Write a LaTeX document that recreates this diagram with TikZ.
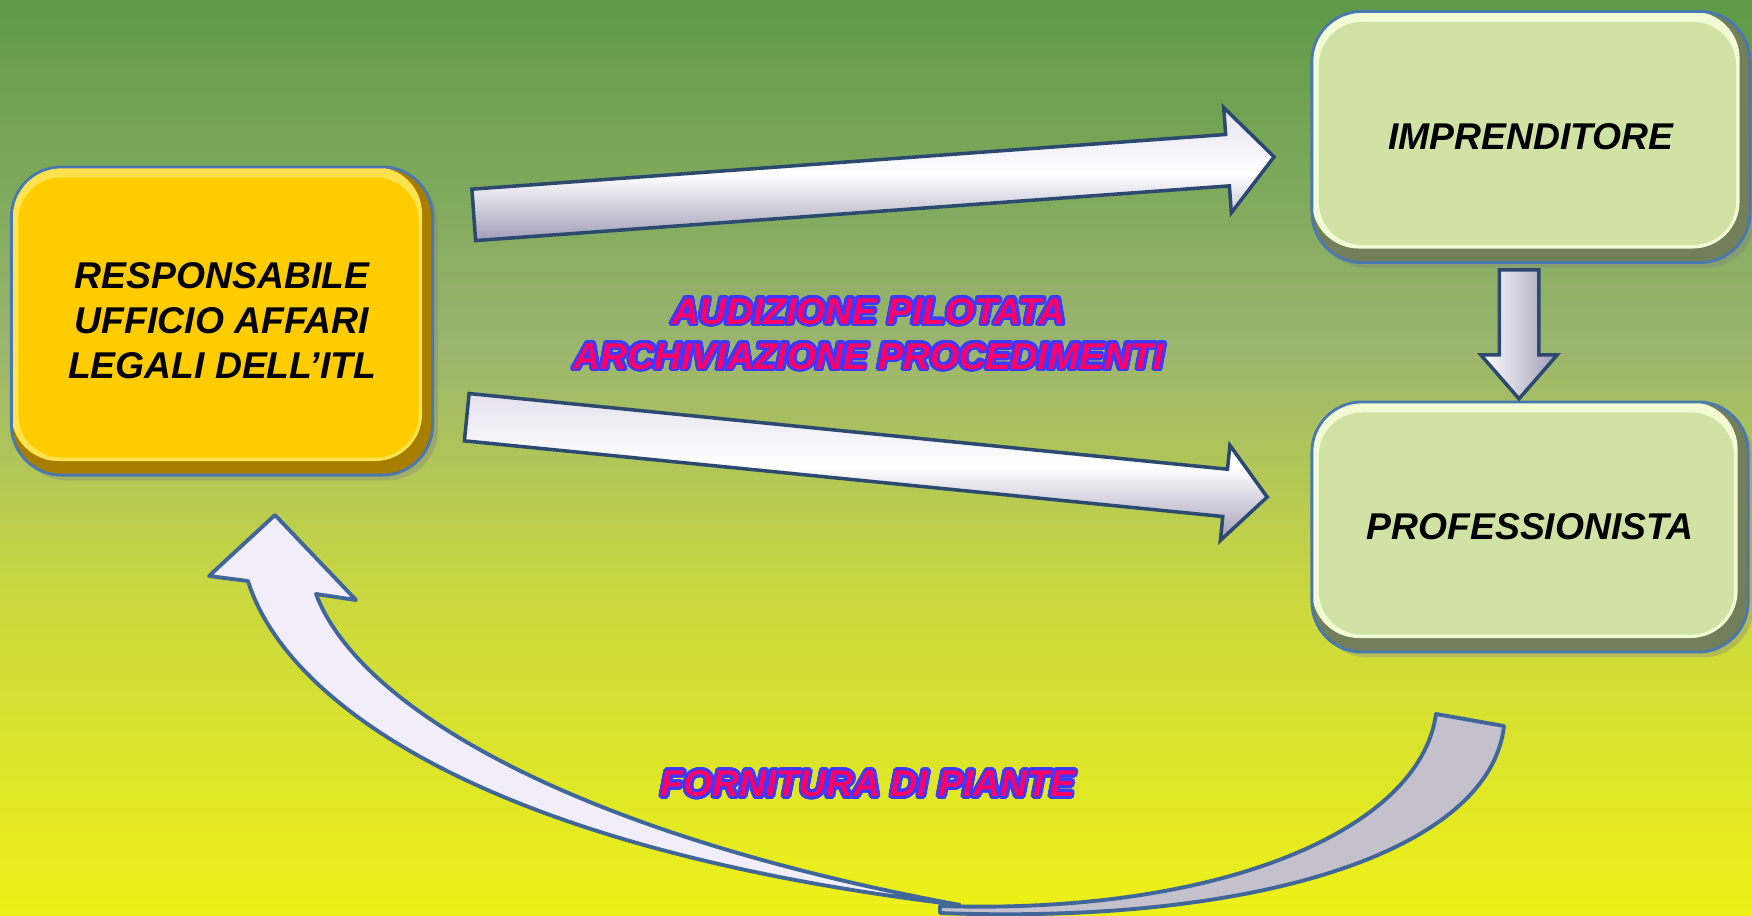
\documentclass[tikz,border=0pt]{standalone}
\usepackage{fontspec}
\setmainfont{Liberation Sans}
\usepackage[copies]{contour}
\usetikzlibrary{shapes.arrows,shadows}

\definecolor{bgtop}{HTML}{5E9A46}
\definecolor{bgmid}{HTML}{9BB66E}
\definecolor{bglow}{HTML}{CAD83F}
\definecolor{bgbot}{HTML}{EEF117}
\definecolor{yfill}{HTML}{FFCC00}
\definecolor{ylight}{HTML}{FFE24D}
\definecolor{ydark}{HTML}{A87E00}
\definecolor{gfill}{HTML}{D0E3A5}
\definecolor{glight}{HTML}{F2FBD4}
\definecolor{gdark}{HTML}{737F5A}
\definecolor{boxline}{HTML}{4A78B0}
\definecolor{arrline}{HTML}{2C4A70}
\definecolor{arrtop}{HTML}{E4E1EE}
\definecolor{arrbot}{HTML}{A29DB8}
\definecolor{curveline}{HTML}{40669A}
\definecolor{curvelight}{HTML}{F2EEF9}
\definecolor{curvegrey}{HTML}{C4C1CC}
\definecolor{labred}{HTML}{FF0066}
\definecolor{labblue}{HTML}{3B3BFF}

\pgfdeclareverticalshading{bgshade}{100bp}{color(0bp)=(bgbot); color(25bp)=(bgbot);
  color(42.5bp)=(bglow); color(56bp)=(bgmid); color(75bp)=(bgtop); color(100bp)=(bgtop)}

\contourlength{0.75pt}
\contournumber{24}

\begin{document}
\begin{tikzpicture}[x=0.01cm,y=-0.01cm]
  \tikzstyle{box}=[rounded corners=0.5cm, draw=boxline, line width=0.8pt, inner sep=0pt,
    align=center, font=\fontsize{10.6}{12.8}\selectfont\bfseries\itshape,
    drop shadow={shadow xshift=1.5pt,shadow yshift=-1.5pt,opacity=0.35}]
  \tikzstyle{ybox}=[box, fill=yfill, path picture={
    \fill[ydark] (path picture bounding box.south west) rectangle (path picture bounding box.north east);
    \fill[ylight, rounded corners=0.47cm] (path picture bounding box.north west) rectangle ([shift={(-3pt,4pt)}]path picture bounding box.south east);
    \fill[yfill, rounded corners=0.43cm] ([shift={(2pt,-3pt)}]path picture bounding box.north west) rectangle ([shift={(-4pt,5pt)}]path picture bounding box.south east);}]
  \tikzstyle{gbox}=[box, fill=gfill, path picture={
    \fill[gdark] (path picture bounding box.south west) rectangle (path picture bounding box.north east);
    \fill[glight, rounded corners=0.47cm] (path picture bounding box.north west) rectangle ([shift={(-3pt,4pt)}]path picture bounding box.south east);
    \fill[gfill, rounded corners=0.43cm] ([shift={(2pt,-3pt)}]path picture bounding box.north west) rectangle ([shift={(-4pt,5pt)}]path picture bounding box.south east);}]
  \tikzstyle{bigarrow}=[single arrow, draw=arrline, line width=1pt, inner xsep=0pt,
    single arrow tip angle=97, single arrow head indent=0pt, anchor=tail,
    top color=arrtop, bottom color=arrbot, middle color=white]
  \tikzstyle{curveline}=[draw=curveline, line width=1.1pt, line join=round]
  \tikzstyle{flowtext}=[inner sep=0pt, align=center, text=labred,
    font=\fontsize{10.6}{12.8}\selectfont\bfseries\itshape]

  % background
  \useasboundingbox (0,0) rectangle (1752,915);
  \fill[shading=bgshade] (0,0) rectangle (1752,915);

  % boxes
  \node[ybox, minimum width=4.21cm, minimum height=3.08cm] (resp) at (222,321)
    {RESPONSABILE\\UFFICIO AFFARI\\LEGALI DELL’ITL};
  \node[gbox, minimum width=4.38cm, minimum height=2.51cm] (impr) at (1531,137) {IMPRENDITORE};
  \node[gbox, minimum width=4.36cm, minimum height=2.50cm] (prof) at (1530,527) {PROFESSIONISTA};

  % straight arrows
  \node[bigarrow, minimum height=8.02cm, inner ysep=0.24cm,
    single arrow head extend=0.27cm, rotate=4.15] (toimpr) at (472,215) {};
  \node[bigarrow, minimum height=8.04cm, inner ysep=0.22cm,
    single arrow head extend=0.24cm, rotate=-5.7] (toprof) at (465,417) {};
  \node[bigarrow, minimum height=1.29cm, inner ysep=0.18cm, single arrow tip angle=82,
    single arrow head extend=0.185cm, rotate=-90, left color=white, middle color=white,
    right color=arrbot] (down) at (1519,268) {};

  % curved arrow back
  \filldraw[curveline, fill=curvegrey] (1436,714) -- (1504,726)
    .. controls (1490,850) and (1260,925) .. (940,913) -- (940,906)
    .. controls (1220,915) and (1420,830) .. (1436,714) -- cycle;
  \filldraw[curveline, fill=curvelight] (248,581)
    .. controls (285,700) and (480,848) .. (960,905)
    .. controls (580,835) and (360,710) .. (316,594)
    -- (356,600) -- (275,515) -- (209,576) -- cycle;

  % labels
  \node[flowtext] (audiz) at (869,335)
    {\contour{labblue}{AUDIZIONE PILOTATA}\\\contour{labblue}{ARCHIVIAZIONE PROCEDIMENTI}};
  \node[flowtext] (forn) at (868,785) {\contour{labblue}{FORNITURA DI PIANTE}};

\end{tikzpicture}
\end{document}
